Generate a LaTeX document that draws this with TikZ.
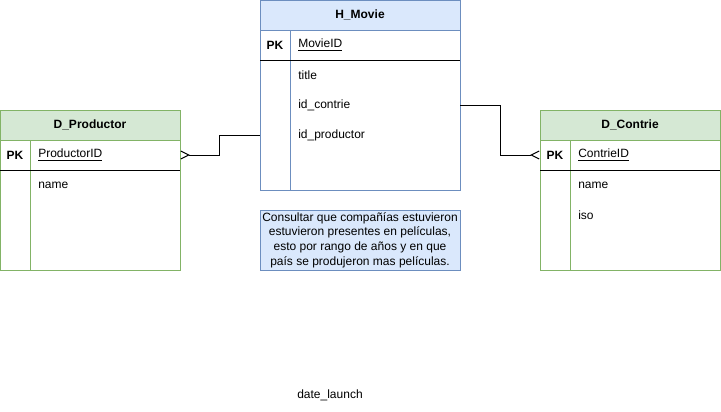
\documentclass[tikz,border=0pt]{standalone}
\usepackage{fontspec}
\setmainfont{Liberation Sans}
\usepackage{xcolor}
\usepackage{tikz}
\usetikzlibrary{arrows.meta}
\definecolor{bluefill}{HTML}{DAE8FC}
\definecolor{blueline}{HTML}{6C8EBF}
\definecolor{greenfill}{HTML}{D5E8D4}
\definecolor{greenline}{HTML}{82B366}
\begin{document}
\begin{tikzpicture}[x=0.75pt, y=-0.75pt,
    font=\fontsize{9}{11}\selectfont,
    header/.style={rectangle, draw, inner sep=0pt, minimum height=22.5pt, font=\fontsize{9}{11}\selectfont\bfseries},
    tbody/.style={rectangle, draw, inner sep=0pt},
    pk/.style={inner sep=0pt, font=\fontsize{9}{11}\selectfont\bfseries},
    field/.style={anchor=west, inner sep=0pt},
    keyline/.style={line width=0.75pt},
    rel/.style={-{Straight Barb[reversed, length=6pt, width=6pt, line width=0.75pt]}, line width=0.75pt},
    note/.style={rectangle, draw=blueline, fill=bluefill, minimum width=150pt, minimum height=45pt, align=center, inner sep=0pt}
]
    \useasboundingbox (0,0) rectangle (721,411);

    \node[header, draw=blueline, fill=bluefill, minimum width=150pt] (movie) at (360,15) {H\_Movie};
    \node[tbody, draw=blueline, minimum width=150pt, minimum height=120pt] (moviebody) at (360,110) {};
    \draw[blueline] (290,30) -- (290,190);
    \draw[keyline] (260,60) -- (460,60);
    \node[pk] (moviepk) at (275,45) {PK};
    \node[field] (movieid) at (298,45) {\underline{MovieID}};
    \node[field] (mtitle) at (298,75) {title};
    \node[field] (mcontrie) at (298,105) {id\_contrie};
    \node[field] (mproductor) at (298,135) {id\_productor};

    \node[header, draw=greenline, fill=greenfill, minimum width=135pt] (prod) at (90,125) {D\_Productor};
    \node[tbody, draw=greenline, minimum width=135pt, minimum height=97.5pt] (prodbody) at (90,205) {};
    \draw[greenline] (30,140) -- (30,270);
    \draw[keyline] (0,170) -- (180,170);
    \node[pk] (prodpk) at (15,155) {PK};
    \node[field] (prodid) at (38,155) {\underline{ProductorID}};
    \node[field] (pname) at (38,185) {name};

    \node[header, draw=greenline, fill=greenfill, minimum width=135pt] (contrie) at (630,125) {D\_Contrie};
    \node[tbody, draw=greenline, minimum width=135pt, minimum height=97.5pt] (conbody) at (630,205) {};
    \draw[greenline] (570,140) -- (570,270);
    \draw[keyline] (540,170) -- (720,170);
    \node[pk] (conpk) at (555,155) {PK};
    \node[field] (conid) at (578,155) {\underline{ContrieID}};
    \node[field] (cname) at (578,185) {name};
    \node[field] (ciso) at (578,215) {iso};

    \node[note] (query) at (360,240) {Consultar que compañías estuvieron\\estuvieron presentes en películas,\\esto por rango de años y en que\\país se produjeron mas películas.};
    \node (launch) at (330,395) {date\_launch};

    \draw[rel] (moviebody.west |- mproductor) -- ++(-40,0) |- (prodbody.east |- prodpk);
    \draw[rel] (moviebody.east |- mcontrie) -- ++(40,0) |- (conbody.west |- conpk);
\end{tikzpicture}
\end{document}
